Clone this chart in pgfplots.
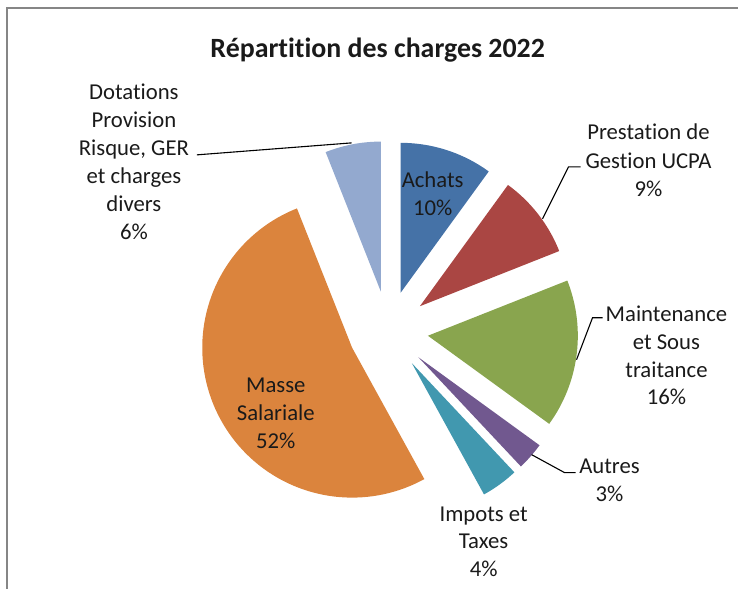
\documentclass[border=0pt]{standalone}
\usepackage{pgfplots}
\pgfplotsset{compat=1.18}
\usepackage{pgfplotstable}
\usepackage{fontspec}
\setmainfont{Carlito}[RawFeature={-liga;-clig;-calt;-dlig}]

\definecolor{slice0}{HTML}{4572A7}
\definecolor{slice1}{HTML}{AA4643}
\definecolor{slice2}{HTML}{89A54E}
\definecolor{slice3}{HTML}{71588F}
\definecolor{slice4}{HTML}{4198AF}
\definecolor{slice5}{HTML}{DB843D}
\definecolor{slice6}{HTML}{93A9CF}
\definecolor{framegray}{HTML}{868686}
\definecolor{txt}{HTML}{1A1A1A}

\pgfplotstableread{
label pct
Achats 10
Prestation 9
Maintenance 16
Autres 3
Impots 4
Masse 52
Dotations 6
}\charges

\newcommand{\ti}{t\kern0pt i}
\newcommand{\lblfont}{\fontsize{22.8}{27.5}\selectfont}
\newcommand{\lbl}[3]{\node[anchor=base, font=\lblfont, inner sep=0pt, text=txt] at (axis cs:#1,{589-#2}) {#3};}

\begin{document}
\begin{tikzpicture}
\xdef\cumsum{0}
\pgfplotsforeachungrouped \i in {0,1,2,3,4,5,6}{%
  \pgfplotstablegetelem{\i}{pct}\of\charges
  \let\myv\pgfplotsretval
  \pgfmathsetmacro{\myA}{\cumsum*3.6}
  \pgfmathsetmacro{\myB}{(\cumsum+\myv)*3.6}
  \pgfmathsetmacro{\myM}{(\myA+\myB)/2}
  \pgfmathsetmacro{\myX}{388.6+40*sin(\myM)}
  \pgfmathsetmacro{\myY}{258+40*cos(\myM)}
  \expandafter\xdef\csname sa\i\endcsname{\myA}
  \expandafter\xdef\csname sb\i\endcsname{\myB}
  \expandafter\xdef\csname px\i\endcsname{\myX}
  \expandafter\xdef\csname py\i\endcsname{\myY}
  \pgfmathsetmacro{\myC}{\cumsum+\myv}
  \xdef\cumsum{\myC}
}
\begin{axis}[width=739bp, height=589bp, scale only axis,
  xmin=0, xmax=739, ymin=0, ymax=589, hide axis, clip=false]
  \addplot[draw=none] coordinates {(0,0) (739,589)};
  % frame
  \addplot[framegray, line width=1.2bp] coordinates {(7,0) (7,581) (739,581)};
  % slices
  \pgfplotsinvokeforeach{0,1,2,3,4,5,6}{
    \addplot[draw=none, fill=slice#1, domain=\csname sa#1\endcsname:\csname sb#1\endcsname, samples=90, variable=\t]
      ({\csname px#1\endcsname+150*sin(\t)}, {\csname py#1\endcsname+150*cos(\t)})
      -- (axis cs:\csname px#1\endcsname,\csname py#1\endcsname) -- cycle;
  }
  % leader lines
  \addplot[black, line width=1.1bp] coordinates {(197,{589-155}) (352,{589-143})};
  \addplot[black, line width=1.1bp] coordinates {(581,{589-167}) (569,{589-167}) (543,{589-219})};
  \addplot[black, line width=1.1bp] coordinates {(603,{589-318}) (593,{589-318}) (577,{589-360})};
  \addplot[black, line width=1.1bp] coordinates {(532,{589-455}) (565,{589-473}) (576,{589-473})};
  % title
  \node[anchor=base, inner sep=0pt, text=txt, font=\fontsize{28}{34}\selectfont\bfseries] at (axis cs:378,{589-58}) {Répar\ti\ti on des charges 2022};
  % labels
  \lbl{134}{100}{Dota\ti ons}
  \lbl{134}{128}{Provision}
  \lbl{134}{156}{Risque, GER}
  \lbl{134}{184}{et charges}
  \lbl{134}{212}{divers}
  \lbl{134}{240}{6\%}
  \lbl{433}{188}{Achats}
  \lbl{433}{216}{10\%}
  \lbl{649}{140}{Presta\ti on de}
  \lbl{649}{169}{Ges\ti on UCPA}
  \lbl{649}{197}{9\%}
  \lbl{667}{322}{Maintenance}
  \lbl{667}{350}{et Sous}
  \lbl{667}{378}{traitance}
  \lbl{667}{405}{16\%}
  \lbl{610}{474}{Autres}
  \lbl{610}{502}{3\%}
  \lbl{484}{522}{Impots et}
  \lbl{484}{549}{Taxes}
  \lbl{484}{577}{4\%}
  \lbl{276}{393}{Masse}
  \lbl{276}{421}{Salariale}
  \lbl{276}{449}{52\%}
\end{axis}
\end{tikzpicture}
\end{document}
